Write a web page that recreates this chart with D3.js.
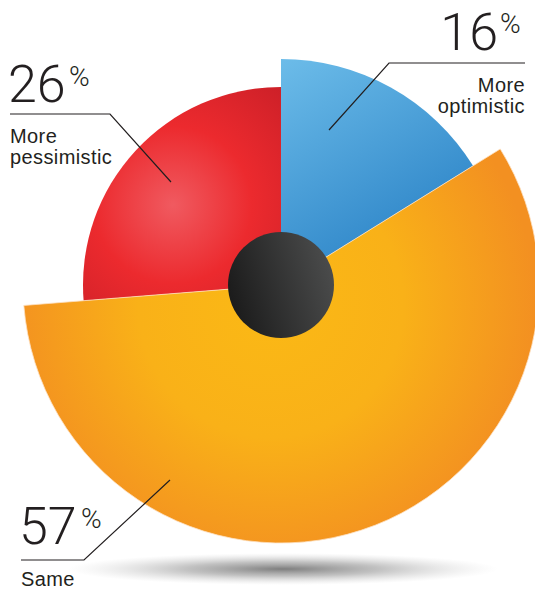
<!DOCTYPE html>
<html><head><meta charset="utf-8">
<script src="https://cdn.jsdelivr.net/npm/d3@7"></script>
<style>
html,body{margin:0;padding:0;background:#fff;}
svg{display:block;}
.num{font-family:Roboto,"Liberation Sans",sans-serif;font-weight:300;fill:#231f20;}
.lbl{font-family:"Liberation Sans",Arial,sans-serif;fill:#231f20;letter-spacing:0.4px;}
</style>
</head><body>
<svg id="c" width="535" height="592"></svg>
<script>
// data
const categories = ["More optimistic", "Same", "More pessimistic"];
const values = [16, 57, 26];
const percentLabels = ["16", "57", "26"];

// styling / layout
const cx = 281, cy = 285;
const outerRadii = [226, 258, 198];
const hubRadius = 53;

const svg = d3.select("#c");
const defs = svg.append("defs");

// gradients (userSpaceOnUse coords are relative to the pie group)
const gBlue = defs.append("linearGradient").attr("id","gBlue")
  .attr("x1","0").attr("y1","0").attr("x2","0.5").attr("y2","1");
gBlue.append("stop").attr("offset","0").attr("stop-color","#6cbce9");
gBlue.append("stop").attr("offset","1").attr("stop-color","#2a82c6");

const gOrange = defs.append("radialGradient").attr("id","gOrange")
  .attr("gradientUnits","userSpaceOnUse").attr("cx",-10).attr("cy",20).attr("r",265);
gOrange.append("stop").attr("offset","0").attr("stop-color","#fbb915");
gOrange.append("stop").attr("offset","0.5").attr("stop-color","#f9b118");
gOrange.append("stop").attr("offset","1").attr("stop-color","#f39021");

const gRed = defs.append("radialGradient").attr("id","gRed")
  .attr("gradientUnits","userSpaceOnUse").attr("cx",-108).attr("cy",-80).attr("r",175);
gRed.append("stop").attr("offset","0").attr("stop-color","#f05a60");
gRed.append("stop").attr("offset","0.45").attr("stop-color","#ec2a2e");
gRed.append("stop").attr("offset","1").attr("stop-color","#c71e27");

const gHub = defs.append("linearGradient").attr("id","gHub")
  .attr("x1","0").attr("y1","0.6").attr("x2","1").attr("y2","0.3");
gHub.append("stop").attr("offset","0").attr("stop-color","#1b1b1b");
gHub.append("stop").attr("offset","1").attr("stop-color","#4c4d4d");

const gShadow = defs.append("radialGradient").attr("id","gShadow");
gShadow.append("stop").attr("offset","0").attr("stop-color","#777").attr("stop-opacity",0.95);
gShadow.append("stop").attr("offset","0.45").attr("stop-color","#999").attr("stop-opacity",0.6);
gShadow.append("stop").attr("offset","1").attr("stop-color","#ccc").attr("stop-opacity",0);

const fills = ["url(#gBlue)","url(#gOrange)","url(#gRed)"];

// shadow
svg.append("ellipse").attr("cx",283).attr("cy",569).attr("rx",215).attr("ry",16)
  .attr("fill","url(#gShadow)");

const pie = d3.pie().sort(null).value(d => d)(values);
const g = svg.append("g").attr("transform",`translate(${cx},${cy})`);

// draw order: red, blue, then orange on top
const order = [2,0,1];
order.forEach(i => {
  const d = pie[i];
  const arc = d3.arc().innerRadius(0).outerRadius(outerRadii[i]);
  g.append("path").attr("d", arc(d)).attr("fill", fills[i])
    .attr("stroke", i===1 ? "#fde0c0" : "none").attr("stroke-width", i===1 ? 0.8 : 0);
});

// hub
g.append("circle").attr("r",hubRadius).attr("fill","url(#gHub)");

// leader lines (annotation layout)
const leaders = [
  [[329,130],[389,63],[525,63]],
  [[170,480],[84,560],[21,560]],
  [[171,182],[110,114],[10,114]]
];
const line = d3.line();
leaders.forEach(p => {
  svg.append("path").attr("d", line(p)).attr("fill","none")
    .attr("stroke","#231f20").attr("stroke-width",1.2);
});

// labels
function bigNum(x, y, anchor, txt){
  return svg.append("text").attr("class","num").attr("x",x).attr("y",y)
    .attr("text-anchor",anchor).attr("font-size",52).text(txt);
}
function pct(x, y){
  return svg.append("text").attr("class","num").attr("x",x).attr("y",y)
    .attr("font-size",28).text("%");
}
// 16%
bigNum(498, 50, "end", percentLabels[0]);
pct(500, 33);
svg.append("text").attr("class","lbl").attr("x",525).attr("y",92).attr("text-anchor","end").attr("font-size",20).text("More");
svg.append("text").attr("class","lbl").attr("x",525).attr("y",113).attr("text-anchor","end").attr("font-size",20).text("optimistic");

// 26%
bigNum(8, 102, "start", percentLabels[2]);
pct(69, 86);
svg.append("text").attr("class","lbl").attr("x",10).attr("y",143).attr("font-size",20).text("More");
svg.append("text").attr("class","lbl").attr("x",10).attr("y",164).attr("font-size",20).text("pessimistic");

// 57%
bigNum(19, 544, "start", percentLabels[1]);
pct(81, 528);
svg.append("text").attr("class","lbl").attr("x",21).attr("y",586).attr("font-size",20).text("Same");
</script>
</body></html>
